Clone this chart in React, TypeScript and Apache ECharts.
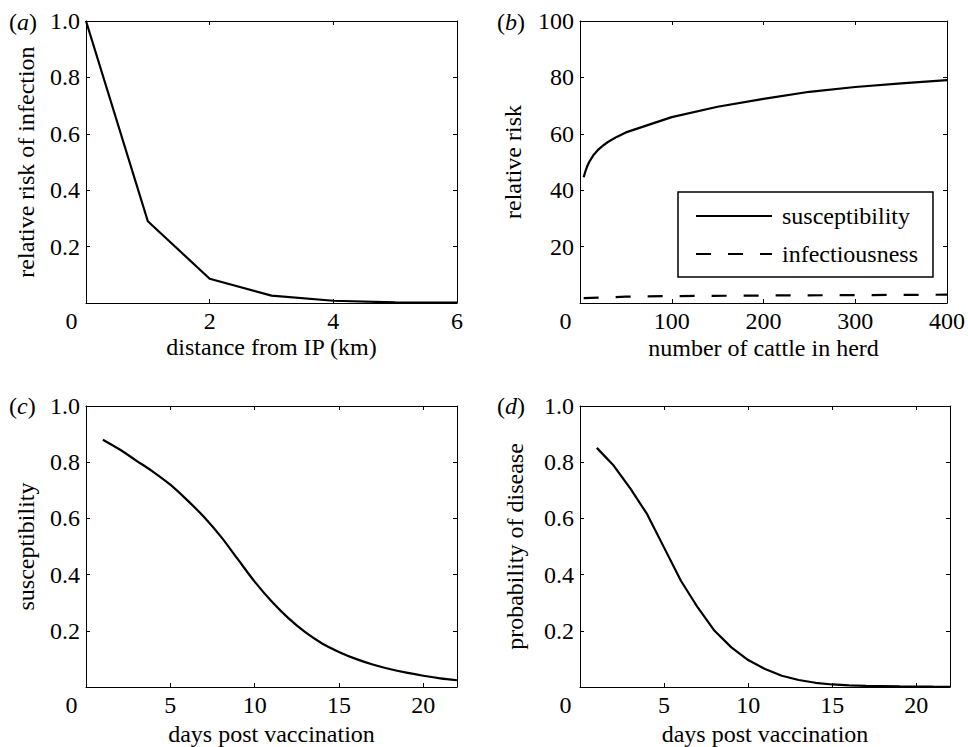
import React, { useEffect, useRef } from "react";
import * as echarts from "echarts";

// ---- data ----
const distanceKm = [0, 1, 2, 3, 4, 5, 6];
const riskInfection = [1.0, 0.29, 0.086, 0.026, 0.008, 0.002, 0.001];

const herdSizeSusc = [4, 6, 8, 10, 15, 20, 25, 30, 40, 50, 100, 150, 200, 250, 300, 350, 400];
const susceptibilityHerd = [44.6, 46.8, 48.6, 50.0, 52.6, 54.4, 55.8, 57.0, 58.9, 60.5, 65.9, 69.6, 72.4, 74.9, 76.6, 77.9, 79.0];
const herdSizeInf = [4, 50, 100, 200, 300, 400];
const infectiousnessHerd = [1.7, 2.25, 2.45, 2.65, 2.8, 2.95];

const daysPostVacc = [1, 2, 3, 4, 5, 6, 7, 8, 9, 10, 11, 12, 13, 14, 15, 16, 17, 18, 19, 20, 21, 22];
const susceptibilityDays = [0.88, 0.845, 0.805, 0.765, 0.72, 0.665, 0.605, 0.535, 0.455, 0.375, 0.305, 0.245, 0.195, 0.155, 0.125, 0.1, 0.08, 0.064, 0.051, 0.04, 0.031, 0.024];
const diseaseDays = [0.851, 0.788, 0.706, 0.614, 0.496, 0.378, 0.283, 0.2, 0.141, 0.096, 0.064, 0.04, 0.025, 0.015, 0.009, 0.006, 0.004, 0.003, 0.002, 0.0015, 0.001, 0.0008];

const xTicksA = [0, 2, 4, 6];
const yTicksA = [0.2, 0.4, 0.6, 0.8, 1.0];
const xTicksB = [0, 100, 200, 300, 400];
const yTicksB = [20, 40, 60, 80, 100];
const xTicksCD = [0, 5, 10, 15, 20];
const yTicksCD = [0.2, 0.4, 0.6, 0.8, 1.0];

const panelLabels = ["a", "b", "c", "d"];
const seriesNames = ["susceptibility", "infectiousness"];

const FONT = "Liberation Serif, Times New Roman, serif";
const FS = 24;

const near = (arr: number[], v: number) => arr.some((t) => Math.abs(t - v) < 1e-9);

function xAxes(gridIndex: number, min: number, max: number, interval: number, ticks: number[], name: string, nameGap: number) {
  const common = {
    type: "value",
    gridIndex,
    min,
    max,
    interval,
    splitLine: { show: false },
    axisLine: { show: true, onZero: false, lineStyle: { color: "#000", width: 1 } },
    axisTick: { show: true, inside: true, length: 4, lineStyle: { color: "#000", width: 1 } },
  };
  return [
    {
      ...common,
      position: "bottom",
      name,
      nameLocation: "middle",
      nameGap,
      nameTextStyle: { fontSize: FS, fontFamily: FONT, color: "#000" },
      axisLabel: {
        show: true,
        margin: 6,
        fontSize: FS,
        fontFamily: FONT,
        color: "#000",
        formatter: (v: number) => (v === 0 ? "{o|0}" : near(ticks, v) ? String(v) : ""),
        rich: { o: { padding: [0, 29, 0, 0], fontSize: FS, fontFamily: FONT, color: "#000" } },
      },
    },
    { ...common, position: "top", axisLabel: { show: false } },
  ];
}

function yAxes(gridIndex: number, min: number, max: number, interval: number, ticks: number[], decimals: number, name: string, nameGap: number) {
  const common = {
    type: "value",
    gridIndex,
    min,
    max,
    interval,
    splitLine: { show: false },
    axisLine: { show: true, onZero: false, lineStyle: { color: "#000", width: 1 } },
    axisTick: { show: true, inside: true, length: 4, lineStyle: { color: "#000", width: 1 } },
  };
  return [
    {
      ...common,
      position: "left",
      name,
      nameLocation: "middle",
      nameGap,
      nameTextStyle: { fontSize: FS, fontFamily: FONT, color: "#000" },
      axisLabel: {
        show: true,
        margin: 6,
        fontSize: FS,
        fontFamily: FONT,
        color: "#000",
        formatter: (v: number) => (near(ticks, v) ? v.toFixed(decimals) : ""),
      },
    },
    { ...common, position: "right", axisLabel: { show: false } },
  ];
}

const zip = (xs: number[], ys: number[]) => xs.map((x, i) => [x, ys[i]]);

function panelLabel(letter: string, x: number, y: number) {
  return {
    type: "text",
    x,
    y,
    style: {
      text: `{n|(}{i|${letter}}{n|)}`,
      rich: {
        n: { fontSize: FS, fontFamily: FONT, fill: "#000" },
        i: { fontSize: FS, fontFamily: FONT, fontStyle: "italic", fill: "#000" },
      },
      align: "left",
      verticalAlign: "middle",
    },
  };
}

export default function App() {
  const ref = useRef<HTMLDivElement>(null);
  useEffect(() => {
    if (!ref.current) return;
    const chart = echarts.init(ref.current, undefined, { renderer: "svg" });
    const lineBase = { type: "line", symbol: "none", showSymbol: false, smooth: false, silent: true };
    chart.setOption({
      animation: false,
      backgroundColor: "#fff",
      textStyle: { fontFamily: FONT },
      grid: [
        { left: 86, top: 21, width: 371, height: 282 },
        { left: 580, top: 21, width: 370, height: 282 },
        { left: 86, top: 406, width: 371, height: 281 },
        { left: 580, top: 406, width: 370, height: 281 },
      ],
      xAxis: [
        ...xAxes(0, 0, 6, 2, xTicksA, "distance from IP (km)", 32),
        ...xAxes(1, 0, 400, 100, xTicksB, "number of cattle in herd", 33),
        ...xAxes(2, 0, 22, 5, xTicksCD, "days post vaccination", 35),
        ...xAxes(3, 0, 22, 5, xTicksCD, "days post vaccination", 35),
      ],
      yAxis: [
        ...yAxes(0, 0, 1, 0.2, yTicksA, 1, "relative risk of infection", 48),
        ...yAxes(1, 0, 100, 20, yTicksB, 0, "relative risk", 55),
        ...yAxes(2, 0, 1, 0.2, yTicksCD, 1, "susceptibility", 48),
        ...yAxes(3, 0, 1, 0.2, yTicksCD, 1, "probability of disease", 53),
      ],
      legend: {
        data: seriesNames,
        orient: "vertical",
        left: 678,
        top: 192,
        itemWidth: 76,
        itemHeight: 14,
        itemGap: 14,
        padding: [12, 15, 11, 17],
        borderColor: "#000",
        borderWidth: 1.5,
        backgroundColor: "#fff",
        selectedMode: false,
        itemStyle: { color: "transparent", borderColor: "transparent", borderWidth: 0, opacity: 0 },
        textStyle: { fontSize: FS, fontFamily: FONT, color: "#000", padding: [0, 0, 0, 5] },
      },
      graphic: [
        panelLabel(panelLabels[0], 9, 22),
        panelLabel(panelLabels[1], 497, 22),
        panelLabel(panelLabels[2], 9, 406),
        panelLabel(panelLabels[3], 497, 406),
      ],
      series: [
        {
          ...lineBase,
          xAxisIndex: 0,
          yAxisIndex: 0,
          data: zip(distanceKm, riskInfection),
          lineStyle: { color: "#000", width: 2.2 },
        },
        {
          ...lineBase,
          name: seriesNames[0],
          xAxisIndex: 2,
          yAxisIndex: 2,
          data: zip(herdSizeSusc, susceptibilityHerd),
          lineStyle: { color: "#000", width: 2.2 },
          itemStyle: { color: "#000" },
        },
        {
          ...lineBase,
          name: seriesNames[1],
          xAxisIndex: 2,
          yAxisIndex: 2,
          data: zip(herdSizeInf, infectiousnessHerd),
          lineStyle: { color: "#000", width: 2.2, type: [15, 17] },
          itemStyle: { color: "#000" },
        },
        {
          ...lineBase,
          smooth: 0.3,
          xAxisIndex: 4,
          yAxisIndex: 4,
          data: zip(daysPostVacc, susceptibilityDays),
          lineStyle: { color: "#000", width: 2.2 },
        },
        {
          ...lineBase,
          xAxisIndex: 6,
          yAxisIndex: 6,
          data: zip(daysPostVacc, diseaseDays),
          lineStyle: { color: "#000", width: 2.2 },
        },
      ],
    });
    return () => chart.dispose();
  }, []);
  return (
    <div
      ref={ref}
      style={{ position: "absolute", left: 0, top: 0, width: 968, height: 747, overflow: "hidden", background: "#fff" }}
    />
  );
}
